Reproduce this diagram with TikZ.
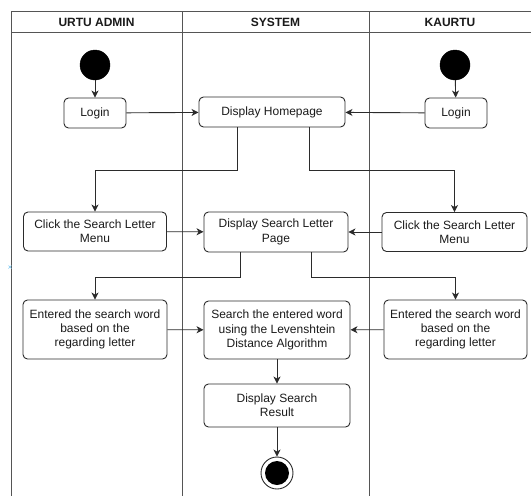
\documentclass[tikz,border=0pt]{standalone}
\usepackage{fontspec}
\setmainfont{Liberation Sans}
\usetikzlibrary{arrows.meta}
\definecolor{ln}{HTML}{2B2B2B}
\definecolor{txt}{HTML}{1A1A1A}
\definecolor{xmarkcol}{HTML}{7EC8F0}
\tikzset{
  box/.style={draw=ln, line width=0.9pt, rounded corners=4.5pt, align=center,
    font=\fontsize{12}{14.3}\selectfont, text=txt, inner sep=0pt},
  startdot/.style={circle, fill=black, draw=black, minimum size=30pt, inner sep=0pt},
  enddot/.style={circle, draw=ln, line width=0.9pt, fill=white, minimum size=32pt, inner sep=0pt},
  arr/.style={draw=ln, line width=0.9pt, -{Stealth[length=7pt,width=7pt,inset=2pt]}},
  lane/.style={draw=ln!80, line width=1pt},
  head/.style={font=\fontsize{12}{14}\selectfont\bfseries, text=txt}
}
\begin{document}
\begin{tikzpicture}[x=1pt,y=-1pt]
\useasboundingbox (0,0) rectangle (531,496);
% swimlanes
\draw[lane] (11,496) -- (11,11) -- (531,11);
\draw[lane] (11,32) -- (531,32);
\draw[lane] (182,11) -- (182,496);
\draw[lane] (369,11) -- (369,496);
\node[head] (h1) at (96.5,22) {URTU ADMIN};
\node[head] (h2) at (275.5,22) {SYSTEM};
\node[head] (h3) at (450,22) {KAURTU};
% tiny marker
\draw[xmarkcol, line width=0.7pt] (8.5,265.5) -- (11.5,268.5) (8.5,268.5) -- (11.5,265.5);
% nodes
\node[startdot] (a0) at (95,65) {};
\node[startdot] (k0) at (455,65) {};
\node[box, minimum width=62pt, minimum height=30pt] (aL) at (95,113) {Login};
\node[box, minimum width=146pt, minimum height=30pt] (dh) at (272,112) {Display Homepage};
\node[box, minimum width=62pt, minimum height=30pt] (kL) at (456,113) {Login};
\node[box, minimum width=143pt, minimum height=39pt] (ac) at (95,231.5) {Click the Search Letter\\Menu};
\node[box, minimum width=144pt, minimum height=40pt] (ds) at (276,232) {Display Search Letter\\Page};
\node[box, minimum width=145pt, minimum height=39pt] (kc) at (454.5,232) {Click the Search Letter\\Menu};
\node[box, minimum width=144pt, minimum height=59pt] (ae) at (95,329.5) {Entered the search word\\based on the\\regarding letter};
\node[box, minimum width=146pt, minimum height=58pt] (sw) at (277,330) {Search the entered word\\using the Levenshtein\\Distance Algorithm};
\node[box, minimum width=143pt, minimum height=59pt] (ke) at (455.5,329.5) {Entered the search word\\based on the\\regarding letter};
\node[box, minimum width=146pt, minimum height=43pt] (dr) at (277,405.5) {Display Search\\Result};
\node[enddot] (en) at (277,473) {};
\node[circle, fill=black, minimum size=24pt, inner sep=0pt] (enin) at (en) {};
% connectors
\draw[arr] (a0) -- (aL);
\draw[arr] (k0) -- (kL);
\draw[arr] (aL) -- (dh);
\draw[arr] (kL) -- (dh);
\draw[arr] ([xshift=-35pt]dh.south) -- ++(0,43) -| (ac.north);
\draw[arr] ([xshift=37pt]dh.south) -- ++(0,43) -| (kc.north);
\draw[arr] (ac) -- (ds);
\draw[arr] (kc) -- (ds);
\draw[arr] ([xshift=-36pt]ds.south) -- ++(0,25) -| (ae.north);
\draw[arr] ([xshift=35pt]ds.south) -- ++(0,25) -| (ke.north);
\draw[arr] (ae) -- (sw);
\draw[arr] (ke) -- (sw);
\draw[arr] (sw) -- (dr);
\draw[arr] (dr) -- (en);
\end{tikzpicture}
\end{document}
